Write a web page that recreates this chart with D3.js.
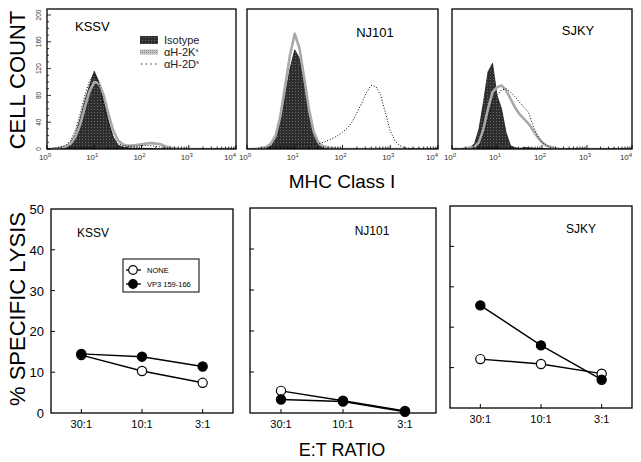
<!DOCTYPE html>
<html><head><meta charset="utf-8">
<script src="https://cdn.jsdelivr.net/npm/d3@7"></script>
<style>body{margin:0;background:#fff}svg{display:block}text{font-family:"Liberation Sans",Arial,Helvetica,sans-serif}</style>
</head><body><svg id="c" width="641" height="462"></svg>
<script>
// ---------- DATA ----------
const cellLines = ["KSSV", "NJ101", "SJKY"];
const histLegend = ["Isotype", "\u03B1H-2K", "\u03B1H-2D"];
// histogram bins: log10 fluorescence 0.0 .. 4.0 in steps of 0.1
const logBins = [0,0.1,0.2,0.3,0.4,0.5,0.6,0.7,0.8,0.9,1.0,1.1,1.2,1.3,1.4,1.5,1.6,1.7,1.8,1.9,2.0,2.1,2.2,2.3,2.4,2.5,2.6,2.7,2.8,2.9,3.0,3.1,3.2,3.3,3.4,3.5,3.6,3.7,3.8,3.9,4.0];
const isoKSSV  = [0,0,1,2,4,10,22,45,72,95,116,100,74,42,18,6,3,2,1,1,1,1,1,0,0,0,0,0,0,0,0,0,0,0,0,0,0,0,0,0,0];
const kKSSV    = [0,0,1,2,4,8,18,36,62,86,100,98,80,52,28,13,7,5,5,6,7,8,9,8,7,4,2,1,0,0,0,0,0,0,0,0,0,0,0,0,0];
const dKSSV    = [0,1,2,3,6,12,28,52,80,102,112,98,68,38,18,8,5,4,4,4,5,5,5,4,3,2,1,0,0,0,0,0,0,0,0,0,0,0,0,0,0];
const isoNJ101 = [0,0,0,1,2,5,15,40,80,120,148,135,95,50,20,7,3,1,0,0,0,0,0,0,0,0,0,0,0,0,0,0,0,0,0,0,0,0,0,0,0];
const kNJ101   = [0,0,0,1,3,8,20,50,95,140,172,150,105,58,25,9,4,2,1,0,0,0,0,0,0,0,0,0,0,0,0,0,0,0,0,0,0,0,0,0,0];
const dNJ101   = [0,0,1,2,2,3,4,5,6,6,7,7,6,6,7,8,10,13,16,20,25,31,40,54,68,84,95,93,80,54,27,12,5,2,1,0,0,0,0,0,0];
const isoSJKY  = [0,0,0,1,2,8,30,70,115,128,80,60,25,5,2,1,2,2,1,1,1,0,0,0,0,0,0,0,0,0,0,0,0,0,0,0,0,0,0,0,0];
const kSJKY    = [0,0,0,1,2,3,10,30,60,85,92,95,88,75,62,52,45,38,28,18,10,5,3,1,0,0,0,0,0,0,0,0,0,0,0,0,0,0,0,0,0];
const dSJKY    = [0,0,0,0,1,2,6,20,45,70,80,88,90,85,78,70,62,55,35,20,10,5,2,1,0,0,0,0,0,0,0,0,0,0,0,0,0,0,0,0,0];
const fluorTicks = [1, 10, 100, 1000, 10000];
const countTicks = [0, 40, 80, 120, 160, 200];

const etRatios = ["30:1", "10:1", "3:1"];
const lysisTicks = [0, 10, 20, 30, 40, 50];
const lysisLegend = ["NONE", "VP3 159-166"];
const noneKSSV  = [14.2, 10.3, 7.4];
const vp3KSSV   = [14.5, 13.8, 11.4];
const noneNJ101 = [5.4, 3.0, 0.5];
const vp3NJ101  = [3.3, 2.8, 0.3];
const noneSJKY  = [12.1, 10.9, 8.5];
const vp3SJKY   = [25.4, 15.5, 7.0];

const isoSeries = [isoKSSV, isoNJ101, isoSJKY];
const kSeries = [kKSSV, kNJ101, kSJKY];
const dSeries = [dKSSV, dNJ101, dSJKY];
const noneSeries = [noneKSSV, noneNJ101, noneSJKY];
const vp3Series = [vp3KSSV, vp3NJ101, vp3SJKY];

// ---------- LAYOUT ----------
const topLayout = [{x0:47,x1:236},{x0:247,x1:438},{x0:452,x1:632}];
const topY0 = 9, topBase = 149;
const botLayout = [
  {x0:51,x1:233,y0:209,y1:413},
  {x0:250,x1:436,y0:208,y1:413},
  {x0:450,x1:632,y0:206,y1:408}];

const svg = d3.select("#c");
const defs = svg.append("defs");
const pat = defs.append("pattern").attr("id","iso").attr("width",3).attr("height",3).attr("patternUnits","userSpaceOnUse");
pat.append("rect").attr("width",3).attr("height",3).attr("fill","#2e2e2e");
pat.append("rect").attr("x",1).attr("y",1).attr("width",1).attr("height",1).attr("fill","#6a6a6a");
const pat2 = defs.append("pattern").attr("id","kpat").attr("width",2).attr("height",2).attr("patternUnits","userSpaceOnUse");
pat2.append("rect").attr("width",2).attr("height",2).attr("fill","#c4c4c4");
pat2.append("rect").attr("width",1).attr("height",1).attr("fill","#8c8c8c");

const yCount = d3.scaleLinear().domain([0, 200]).range([topBase, 15]);

cellLines.forEach((name, i) => {
  const L = topLayout[i];
  const x = d3.scaleLog().domain([1, 10000]).range([L.x0, L.x1]);
  const g = svg.append("g");
  const cid = "clip" + i;
  defs.append("clipPath").attr("id", cid).append("rect")
    .attr("x", L.x0).attr("y", topY0).attr("width", L.x1 - L.x0).attr("height", topBase - topY0);
  const pg = g.append("g").attr("clip-path", `url(#${cid})`);
  const pts = arr => arr.map((c, j) => [Math.pow(10, logBins[j]), c]);
  const area = d3.area().x(d => x(d[0])).y0(yCount(0)).y1(d => yCount(d[1]));
  const line = d3.line().x(d => x(d[0])).y(d => yCount(d[1]));
  pg.append("path").attr("d", area(pts(isoSeries[i]))).attr("fill", "url(#iso)").attr("stroke", "#1a1a1a").attr("stroke-width", 0.8);
  pg.append("path").attr("d", line(pts(kSeries[i]))).attr("fill", "none").attr("stroke", "#a9a9a9").attr("stroke-width", 2.6).attr("stroke-linejoin","round");
  pg.append("path").attr("d", line(pts(dSeries[i]))).attr("fill", "none").attr("stroke", "#000").attr("stroke-width", 1).attr("stroke-dasharray", "1,1.8");

  g.append("rect").attr("x", L.x0).attr("y", topY0).attr("width", L.x1 - L.x0).attr("height", topBase - topY0)
    .attr("fill", "none").attr("stroke", "#000").attr("stroke-width", 1.3);

  // x ticks (log, inward)
  const minor = [];
  for (let d = 1; d < 10000; d *= 10) for (let m = 2; m <= 9; m++) minor.push(d * m);
  g.selectAll(null).data(minor).join("line")
    .attr("x1", d => x(d)).attr("x2", d => x(d)).attr("y1", topBase).attr("y2", topBase - 2.5)
    .attr("stroke", "#000").attr("stroke-width", 0.8);
  g.selectAll(null).data(fluorTicks).join("line")
    .attr("x1", d => x(d)).attr("x2", d => x(d)).attr("y1", topBase).attr("y2", topBase - 4)
    .attr("stroke", "#000").attr("stroke-width", 0.9);
  const tl = g.selectAll(null).data(fluorTicks).join("text")
    .attr("x", d => x(d) - (d === 10000 ? 6 : 2)).attr("y", topBase + 11).attr("text-anchor", "middle")
    .attr("font-size", 8).attr("fill", "#333");
  tl.append("tspan").text("10");
  tl.append("tspan").attr("dy", -3.5).attr("font-size", 6).text(d => Math.round(Math.log10(d)));

  g.append("text").attr("x", [75, 375, 578][i]).attr("y", [31, 37, 35][i])
    .attr("text-anchor", i === 0 ? "start" : "middle").attr("font-size", 13).text(name);

  if (i === 0) {
    g.selectAll(null).data(d3.range(0, 201, 10)).join("line")
      .attr("x1", L.x0).attr("x2", d => L.x0 + (d % 40 === 0 ? 4 : 2))
      .attr("y1", d => yCount(d)).attr("y2", d => yCount(d))
      .attr("stroke", "#000").attr("stroke-width", 0.8);
    g.selectAll(null).data(countTicks).join("text")
      .attr("transform", d => `translate(${L.x0 - 6},${yCount(d)}) rotate(-90)`)
      .attr("text-anchor", "middle").attr("font-size", 6.5).attr("fill", "#333").text(d => d);
  }
});

// top legend
const lg = svg.append("g");
lg.append("rect").attr("x", 140).attr("y", 36).attr("width", 18).attr("height", 8).attr("fill", "url(#iso)");
lg.append("rect").attr("x", 140).attr("y", 49.5).attr("width", 18).attr("height", 5).attr("fill", "url(#kpat)");
lg.append("line").attr("x1", 141).attr("x2", 158).attr("y1", 64).attr("y2", 64)
  .attr("stroke", "#000").attr("stroke-width", 1.2).attr("stroke-dasharray", "1.2,3.5");
const lgY = [44, 56, 68];
histLegend.forEach((t, j) => {
  const tx = lg.append("text").attr("x", 164).attr("y", lgY[j]).attr("font-size", 11).attr("fill", "#222");
  tx.append("tspan").text(t);
  if (j > 0) tx.append("tspan").attr("dy", -4).attr("font-size", 6).text("s");
});

// axis titles
svg.append("text").attr("transform", "translate(25,80) rotate(-90)").attr("text-anchor", "middle")
  .attr("font-size", 22).text("CELL COUNT");
svg.append("text").attr("x", 342).attr("y", 188).attr("text-anchor", "middle").attr("font-size", 19).text("MHC Class I");
svg.append("text").attr("transform", "translate(25,309) rotate(-90)").attr("text-anchor", "middle")
  .attr("font-size", 22).text("% SPECIFIC LYSIS");
svg.append("text").attr("x", 342).attr("y", 456).attr("text-anchor", "middle").attr("font-size", 18).text("E:T RATIO");

// bottom panels
cellLines.forEach((name, i) => {
  const L = botLayout[i];
  const x = d3.scalePoint().domain(etRatios).range([L.x0, L.x1]).padding(0.5);
  const y = d3.scaleLinear().domain([0, 50]).range([L.y1, L.y0]);
  const g = svg.append("g");
  g.append("rect").attr("x", L.x0).attr("y", L.y0).attr("width", L.x1 - L.x0).attr("height", L.y1 - L.y0)
    .attr("fill", "none").attr("stroke", "#000").attr("stroke-width", 1.3);
  g.selectAll(null).data(lysisTicks.slice(1, -1)).join("line")
    .attr("x1", L.x0).attr("x2", L.x0 + 4).attr("y1", d => y(d)).attr("y2", d => y(d))
    .attr("stroke", "#000").attr("stroke-width", 1);
  g.selectAll(null).data(etRatios).join("line")
    .attr("x1", d => x(d)).attr("x2", d => x(d)).attr("y1", L.y1).attr("y2", L.y1 - 4)
    .attr("stroke", "#000").attr("stroke-width", 1);
  g.selectAll(null).data(etRatios).join("text")
    .attr("x", d => x(d)).attr("y", L.y1 + 15).attr("text-anchor", "middle").attr("font-size", 11).text(d => d);
  if (i === 0) {
    g.selectAll(null).data(lysisTicks).join("text")
      .attr("x", L.x0 - 7).attr("y", d => y(d) + 5).attr("text-anchor", "end").attr("font-size", 13).text(d => d);
  }
  g.append("text").attr("x", [77, 372, 581][i]).attr("y", [237, 235, 233][i])
    .attr("text-anchor", i === 0 ? "start" : "middle").attr("font-size", 12).text(name);

  const ln = d3.line().x((d, j) => x(etRatios[j])).y(d => y(d));
  [noneSeries[i], vp3Series[i]].forEach((s, k) => {
    g.append("path").attr("d", ln(s)).attr("fill", "none").attr("stroke", "#000").attr("stroke-width", 1.4);
  });
  [noneSeries[i], vp3Series[i]].forEach((s, k) => {
    g.selectAll(null).data(s).join("circle")
      .attr("cx", (d, j) => x(etRatios[j])).attr("cy", d => y(d)).attr("r", 4.6)
      .attr("fill", k === 0 ? "#fff" : "#000").attr("stroke", "#000").attr("stroke-width", 1.2);
  });
});

// bottom legend
const bl = svg.append("g");
bl.append("rect").attr("x", 123).attr("y", 259).attr("width", 76).attr("height", 33)
  .attr("fill", "#fff").attr("stroke", "#000").attr("stroke-width", 1);
lysisLegend.forEach((t, k) => {
  const yy = [270, 284][k];
  bl.append("line").attr("x1", 126).attr("x2", 141).attr("y1", yy).attr("y2", yy).attr("stroke", "#000").attr("stroke-width", 1.3);
  bl.append("circle").attr("cx", 133).attr("cy", yy).attr("r", 4.3)
    .attr("fill", k === 0 ? "#fff" : "#000").attr("stroke", "#000").attr("stroke-width", 1.2);
  bl.append("text").attr("x", 147).attr("y", yy + 3).attr("font-size", 7.5).text(t);
});
</script></body></html>
